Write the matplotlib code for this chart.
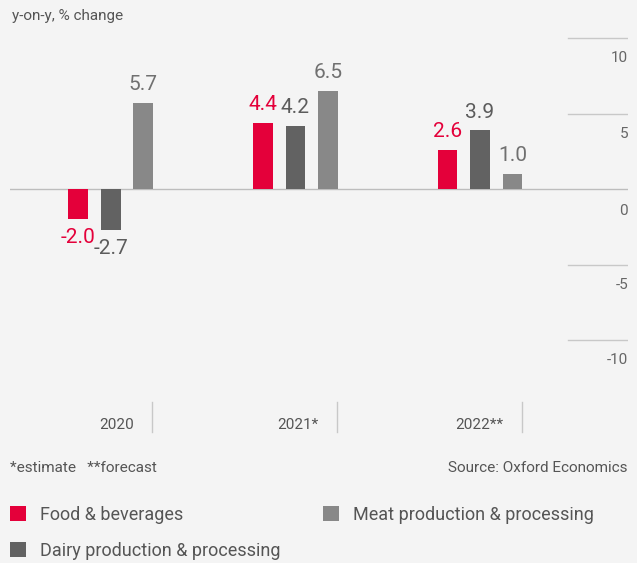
import matplotlib.pyplot as plt
import numpy as np

plt.rcParams['font.family'] = ['Roboto', 'DejaVu Sans']

years = ['2020', '2021*', '2022**']
food = [-2.0, 4.4, 2.6]
dairy = [-2.7, 4.2, 3.9]
meat = [5.7, 6.5, 1.0]

series = [
    ('Food & beverages', food, '#e4003a', '#e4003a'),
    ('Dairy production & processing', dairy, '#626262', '#5c5c5c'),
    ('Meat production & processing', meat, '#888888', '#707070'),
]

bg = '#f4f4f4'
fig = plt.figure(figsize=(6.37, 5.63), dpi=100, facecolor=bg)
ax = fig.add_axes([10 / 637, 1 - 440 / 563, 618 / 637, 410 / 563])
ax.set_facecolor(bg)

x = np.arange(len(years))
step = 0.176
width = 0.108
handles = []
for k, (name, vals, col, tcol) in enumerate(series):
    pos = x + (k - 1) * step
    b = ax.bar(pos, vals, width, color=col, label=name, zorder=3)
    handles.append(b)
    for px, v in zip(pos, vals):
        off = 1.2 if v >= 0 else -1.2
        ax.text(px, v + off, f'{v:.1f}', ha='center', va='center',
                fontsize=15, color=tcol)

# gridlines: short on the right, zero line full width
for v in [10, 5, -5, -10]:
    ax.plot([2.477, 2.802], [v, v], color='#c8c8c8', lw=1, zorder=1)
    ax.text(2.802, v - 1.32, str(v), ha='right', va='center', fontsize=11, color='#666666')
ax.axhline(0, color='#bdbdbd', lw=1, zorder=2)
ax.text(2.802, -1.45, '0', ha='right', va='center', fontsize=11, color='#666666')

# category labels and separators
for i, lab in enumerate(years):
    ax.plot([i + 0.225, i + 0.225], [-14.1, -16.1], color='#c8c8c8', lw=1)
    ax.text(i + 0.125, -15.6, lab, ha='right', va='center', fontsize=11, color='#555555')

ax.set_xlim(-0.547, 2.802)
ax.set_ylim(-16.6, 10.53)
ax.axis('off')

fig.text(12 / 637, 1 - 16 / 563, 'y-on-y, % change', ha='left', va='center',
         fontsize=11, color='#555555')
fig.text(10 / 637, 1 - 468 / 563, '*estimate   **forecast', ha='left', va='center',
         fontsize=11, color='#555555')
fig.text(628 / 637, 1 - 468 / 563, 'Source: Oxford Economics', ha='right', va='center',
         fontsize=11, color='#555555')

leg = fig.legend(handles=handles, loc='upper left', bbox_to_anchor=(10 / 637, 1 - 506 / 563),
                 ncol=2, frameon=False, fontsize=13, handlelength=0.9, handleheight=0.9,
                 handletextpad=0.78, columnspacing=2.33, labelspacing=1.0, borderpad=0,
                 borderaxespad=0)
for t in leg.get_texts():
    t.set_color('#555555')

fig.savefig('out.png', dpi=100, facecolor=bg)
